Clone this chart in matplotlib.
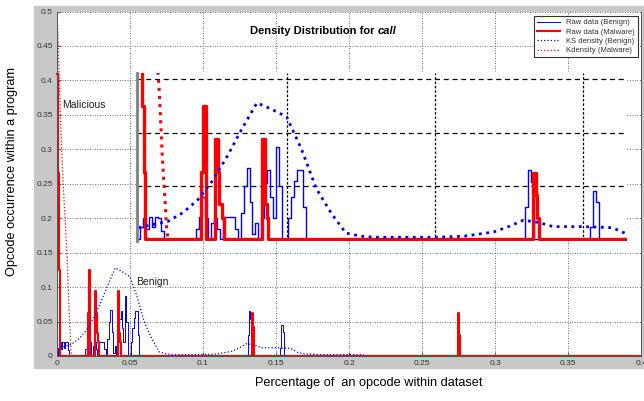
import matplotlib
matplotlib.use('Agg')
import matplotlib.pyplot as plt
from matplotlib.patches import Rectangle

plt.rcParams['font.family'] = 'Liberation Sans'

# raw data, benign (opcode share -> occurrence)
benign_x = [0.000, 0.001, 0.002, 0.003, 0.004, 0.005, 0.006, 0.007, 0.008, 0.009,
            0.019, 0.020, 0.021, 0.022, 0.023, 0.024, 0.025, 0.026, 0.027, 0.028,
            0.029, 0.030, 0.031, 0.032, 0.033, 0.034, 0.035, 0.036, 0.037, 0.038,
            0.039, 0.040, 0.041, 0.042, 0.043, 0.044, 0.045, 0.046, 0.047, 0.048,
            0.049, 0.050, 0.051, 0.052, 0.053, 0.054, 0.055, 0.056, 0.057,
            0.130, 0.131, 0.132, 0.133, 0.134,
            0.152, 0.153, 0.154, 0.155, 0.156, 0.400]
benign_y = [0.000, 0.012, 0.020, 0.010, 0.021, 0.012, 0.021, 0.020, 0.008, 0.000,
            0.000, 0.010, 0.021, 0.040, 0.020, 0.000, 0.015, 0.020, 0.010, 0.000,
            0.021, 0.021, 0.021, 0.021, 0.010, 0.000, 0.025, 0.050, 0.067, 0.035,
            0.005, 0.015, 0.000, 0.020, 0.053, 0.065, 0.040, 0.020, 0.087, 0.050,
            0.000, 0.000, 0.020, 0.040, 0.055, 0.065, 0.065, 0.030, 0.000,
            0.000, 0.030, 0.065, 0.054, 0.000,
            0.000, 0.012, 0.045, 0.035, 0.000, 0.000]

# raw data, malware
malware_x = [0.0, 0.0005, 0.001, 0.0015, 0.002, 0.0025,
             0.021, 0.0215, 0.022, 0.0225, 0.023,
             0.0255, 0.026, 0.0265, 0.027, 0.0275, 0.028, 0.0285, 0.029,
             0.0415, 0.042, 0.0425, 0.043, 0.0435, 0.044,
             0.133, 0.1335, 0.134, 0.1345, 0.135, 0.1355,
             0.2745, 0.275, 0.2755, 0.276, 0.4]
malware_y = [0.41, 0.41, 0.265, 0.125, 0.063, 0.0,
             0.0, 0.063, 0.125, 0.125, 0.0,
             0.0, 0.094, 0.094, 0.063, 0.033, 0.033, 0.02, 0.0,
             0.0, 0.094, 0.094, 0.033, 0.02, 0.0,
             0.0, 0.0625, 0.0625, 0.042, 0.02, 0.0,
             0.0, 0.062, 0.03, 0.0, 0.0]

# KS density (benign)
ks_x = [0.000, 0.005, 0.010, 0.015, 0.020, 0.025, 0.030, 0.035, 0.040, 0.045,
        0.050, 0.055, 0.060, 0.065, 0.070, 0.075, 0.080, 0.090, 0.100, 0.110,
        0.115, 0.120, 0.125, 0.130, 0.135, 0.140, 0.150, 0.160, 0.165, 0.170,
        0.180, 0.190, 0.200, 0.210]
ks_y = [0.011, 0.014, 0.017, 0.025, 0.037, 0.055, 0.078, 0.104, 0.128, 0.122,
        0.115, 0.085, 0.048, 0.025, 0.006, 0.003, 0.002, 0.002, 0.002, 0.003,
        0.005, 0.007, 0.012, 0.018, 0.016, 0.012, 0.012, 0.011, 0.005, 0.003,
        0.002, 0.002, 0.002, 0.002]

# kdensity (malware)
kd_x = [0.000, 0.001, 0.002, 0.003, 0.004, 0.005, 0.006, 0.007, 0.008, 0.009, 0.0095, 0.010]
kd_y = [0.50, 0.44, 0.37, 0.31, 0.26, 0.22, 0.18, 0.14, 0.08, 0.035, 0.01, 0.0]

xticks = [0, 0.05, 0.1, 0.15, 0.2, 0.25, 0.3, 0.35, 0.4]
xtick_labels = ['0', '0.05', '0.1', '0.15', '0.2', '0.25', '0.3', '0.35', '0.4']
yticks = [0, 0.05, 0.1, 0.15, 0.2, 0.25, 0.3, 0.35, 0.4, 0.45, 0.5]
ytick_labels = ['0', '0.05', '0.1', '0.15', '0.2', '0.25', '0.3', '0.35', '0.4', '0.45', '0.5']
inset_ticks = [0.05, 0.1, 0.15]

W, H = 644.0, 401.0
fig = plt.figure(figsize=(W / 100, H / 100), dpi=100)
fig.add_artist(Rectangle((34 / W, 1 - 368 / H), 1 - 34 / W, 362 / H,
                         transform=fig.transFigure, color='#c8c8c8', zorder=-5))

ax = fig.add_axes([57 / W, 1 - 356 / H, 584 / W, 344.5 / H])
ax.set_facecolor('white')
ax.plot(benign_x, benign_y, color='#0000ff', lw=0.7, drawstyle='steps-mid', label='Raw data (Benign)')
ax.plot(malware_x, malware_y, color='#ff0000', lw=1.5, drawstyle='steps-mid', label='Raw data (Malware)',
        clip_on=False)
ax.plot(ks_x, ks_y, color='#0000ff', lw=0.9, ls=':', label='KS density (Benign)')
ax.plot(kd_x, kd_y, color='#ff0000', lw=0.9, ls=':', label='Kdensity (Malware)')
ax.set_xlim(0, 0.4)
ax.set_ylim(0, 0.5)
ax.set_xticks(xticks)
ax.set_xticklabels(xtick_labels)
ax.set_yticks(yticks)
ax.set_yticklabels(ytick_labels)
ax.tick_params(direction='in', length=3, width=0.5, colors='#333333', labelsize=6, pad=3)
ax.grid(True, ls=(0, (1, 2)), color='#444444', lw=0.6)
ax.spines['top'].set_visible(False)
for s in ['left', 'right', 'bottom']:
    ax.spines[s].set_color('#555555')
    ax.spines[s].set_linewidth(0.7)

ax.text(0.0035, 0.365, 'Malicious', fontsize=7.5, va='center', color='#222222')
ax.text(0.054, 0.107, 'Benign', fontsize=7.5, va='center', color='#222222')

t1 = ax.text((250 - 57) / 584, (356 - 34) / 344.5, 'Density Distribution for ', transform=ax.transAxes,
             fontsize=8, fontweight='bold', va='baseline')
ax.annotate('call', xy=(1, 0), xycoords=t1, va='bottom', ha='left',
            fontsize=8, fontweight='bold', fontstyle='italic')

ax.set_xlabel('Percentage of  an opcode within dataset', fontsize=9.2)
ax.xaxis.label.set_va('center')
ax.xaxis.set_label_coords(0.534, -0.078)
ax.set_ylabel('Opcode occurrence within a program', fontsize=9.2)
ax.yaxis.label.set_va('center')
ax.yaxis.set_label_coords(-0.0762, 0.5356)

leg = ax.legend(loc='upper right', bbox_to_anchor=((638 - 57) / 584, (356 - 16) / 344.5),
                fontsize=5.5, fancybox=False, edgecolor='#333333', framealpha=1,
                borderpad=0.4, labelspacing=0.25, handlelength=3, handletextpad=0.8, borderaxespad=0)
leg.get_frame().set_linewidth(0.8)
for t in leg.get_texts():
    t.set_color('#333333')

# zoomed inset
ins = fig.add_axes([137 / W, 1 - 241 / H, 490 / W, 168 / H])
ins.set_facecolor('white')
ins.plot(benign_x, benign_y, color='#0000ff', lw=1.0, drawstyle='steps-mid')
ins.plot(malware_x, malware_y, color='#ff0000', lw=2.4, drawstyle='steps-mid')
ins.plot(ks_x, ks_y, color='#0000ff', lw=2.0, ls=':')
ins.plot(kd_x, kd_y, color='#ff0000', lw=2.2, ls=':')
ins.set_xlim(-0.0005, 0.165)
ins.set_ylim(-0.0015, 0.156)
ins.set_xticks(inset_ticks)
ins.set_yticks(inset_ticks)
ins.tick_params(length=0, labelbottom=False, labelleft=False)
ins.set_axisbelow(True)
ins.xaxis.grid(True, color='black', lw=0.9, ls=(0, (2, 1.5)))
ins.yaxis.grid(True, color='black', lw=0.9, ls=(0, (4, 3)))
for s in ['top', 'right', 'bottom']:
    ins.spines[s].set_visible(False)
ins.spines['left'].set_color('#808080')
ins.spines['left'].set_linewidth(2)

fig.savefig('out.png', dpi=100)
